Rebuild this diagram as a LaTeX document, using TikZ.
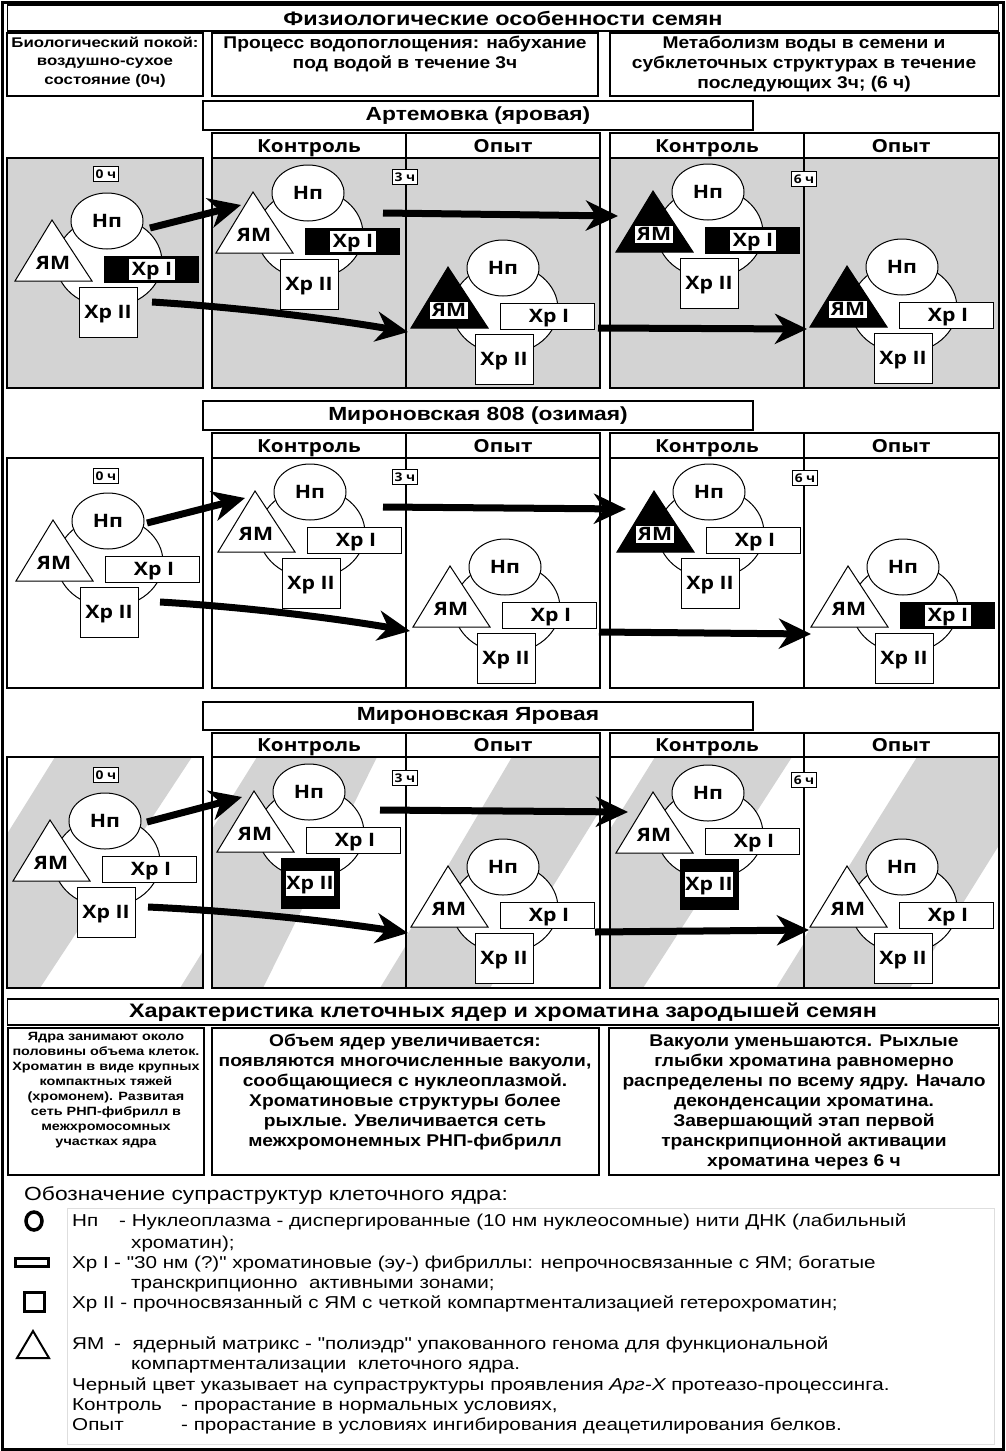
\documentclass[tikz,border=0pt]{standalone}
\usepackage{fontspec}
\setmainfont[FakeStretch=1.2]{Liberation Sans}
\newfontfamily\lsb[FakeStretch=1.13]{Liberation Sans}
\newfontfamily\legf[FakeStretch=1.2]{Liberation Sans}
\newfontfamily\osf[FakeStretch=1.15]{Open Sans}
\usetikzlibrary{arrows.meta,calc,shapes.geometric}
\definecolor{pgray}{RGB}{211,211,211}
\definecolor{lgray}{RGB}{222,222,222}
\tikzset{
  ln/.style={line width=1.4pt},
  nl/.style={line width=1pt},
  lab/.style={font=\osf\bfseries\fontsize{18.5}{20}\selectfont, inner sep=0pt, text height=13pt, text depth=0pt},
  hdr/.style={font=\osf\bfseries\fontsize{18}{20}\selectfont, inner sep=0pt, text height=13pt, text depth=0pt},
  ttl/.style={font=\bfseries\fontsize{19.5}{24}\selectfont},
  sub/.style={font=\bfseries\fontsize{19}{23}\selectfont},
  desc/.style={font=\lsb\bfseries\fontsize{17}{20}\selectfont, align=center, inner sep=0pt},
  tlab/.style={draw, line width=0.9pt, fill=white, font=\osf\bfseries\fontsize{12}{12}\selectfont, minimum width=25pt, minimum height=15pt, inner sep=0pt, text height=8.5pt, text depth=0pt},
  bigarrow/.style={line width=7pt, -{Stealth[length=32pt,width=30pt,inset=10pt]}},
  leg/.style={font=\legf\fontsize{17.2}{20}\selectfont, anchor=base west, inner sep=0pt},
}
% nucleus: prefix, cx, cy, YM black, XrI black, XrII black
\newcommand\nucl[6]{%
\begin{scope}[shift={(#2,#3)}]
 \node[ellipse, draw, nl, fill=white, minimum width=106pt, minimum height=90pt, inner sep=0pt] (#1big) at (2,41) {};
 \node[ellipse, draw, nl, fill=white, minimum width=72pt, minimum height=56pt, lab] (#1np) at (0,0) {Нп};
 \ifnum#4=1
  \filldraw[nl, fill=black] (-55,-1) -- (-92,60) -- (-15,60) -- cycle;
  \node[lab, fill=white, minimum width=38pt, minimum height=17pt] (#1ym) at (-54,42) {ЯМ};
 \else
  \filldraw[nl, fill=white] (-55,-1) -- (-92,60) -- (-15,60) -- cycle;
  \node[lab] (#1ym) at (-54,42) {ЯМ};
 \fi
 \ifnum#5=1
  \node[draw, nl, fill=black, minimum width=94pt, minimum height=26pt] (#1xa) at (44,48) {};
  \node[lab, fill=white, minimum width=46pt, minimum height=21pt] (#1xat) at (45,48) {Хр I};
 \else
  \node[draw, nl, fill=white, minimum width=94pt, minimum height=26pt, lab] (#1xa) at (44,48) {\hspace*{4pt}Хр I};
 \fi
 \ifnum#6=1
  \node[draw, nl, fill=black, minimum width=58pt, minimum height=50pt] (#1xb) at (1,91) {};
  \node[lab, fill=white, minimum width=48pt, minimum height=25pt] (#1xbt) at (1,91) {Хр II};
 \else
  \node[draw, nl, fill=white, minimum width=58pt, minimum height=50pt, lab] (#1xb) at (1,91) {Хр II};
 \fi
\end{scope}}
% panel frames: header top, body top, bottom
\newcommand\rowframes[3]{%
 \draw[ln] (7,#2) rectangle (203,#3);
 \draw[ln] (212,#1) rectangle (600,#3);
 \draw[ln] (212,#2) -- (600,#2);
 \draw[ln] (406,#1) -- (406,#3);
 \draw[ln] (610,#1) rectangle (999,#3);
 \draw[ln] (610,#2) -- (999,#2);
 \draw[ln] (804,#1) -- (804,#3);
}
\newcommand\rowheads[2]{%
 \node[hdr] (#1c1) at (309,#2) {Контроль};
 \node[hdr] (#1o1) at (503,#2) {Опыт};
 \node[hdr] (#1c2) at (707,#2) {Контроль};
 \node[hdr] (#1o2) at (901,#2) {Опыт};
}
\begin{document}
\begin{tikzpicture}[x=1pt,y=-1pt]
\useasboundingbox (0,0) rectangle (1005,1451);
\fill[white] (0,0) rectangle (1005,1451);

% ---------- top header ----------
\node[ttl, draw, ln, fill=white, minimum width=991pt, minimum height=26pt, inner sep=0pt] (title) at (503,18) {Физиологические особенности семян};
\draw[ln] (7,33) rectangle (203,96);
\draw[ln] (212,33) rectangle (598,96);
\draw[ln] (610,33) rectangle (999,96);
\node[font=\bfseries\fontsize{14}{18.5}\selectfont, align=center, inner sep=0pt] (d0) at (105,62) {Биологический покой:\\воздушно-сухое\\состояние (0ч)};
\node[desc] (d3) at (405,54) {Процесс водопоглощения: набухание\\под водой в течение 3ч};
\node[desc] (d6) at (804,64) {Метаболизм воды в семени и\\субклеточных структурах в течение\\последующих 3ч; (6 ч)};

% ---------- backgrounds ----------
\fill[pgray] (7,158) rectangle (203,388);
\fill[pgray] (212,158) rectangle (600,388);
\fill[pgray] (610,158) rectangle (999,388);

% stripes row 3
\begin{scope}
 \clip (7,757) rectangle (203,988);
 \fill[pgray] (55,757) -- (192,757) -- (40,988) -- (-89,988) -- cycle;
 \fill[pgray] (324,757) -- (460,757) -- (316,988) -- (180,988) -- cycle;
\end{scope}
\begin{scope}
 \clip (212,757) rectangle (406,988);
 \fill[pgray] (257,757) -- (377,757) -- (263,988) -- (113,988) -- cycle;
 \fill[pgray] (521,757) -- (658,757) -- (520,988) -- (380,988) -- cycle;
\end{scope}
\begin{scope}
 \clip (406,757) rectangle (600,988);
 \fill[pgray] (512,757) -- (633,757) -- (490,988) -- (376,988) -- cycle;
\end{scope}
\begin{scope}
 \clip (610,757) rectangle (804,988);
 \fill[pgray] (655,757) -- (792,757) -- (643,988) -- (511,988) -- cycle;
 \fill[pgray] (920,757) -- (1057,757) -- (913,988) -- (776,988) -- cycle;
\end{scope}
\begin{scope}
 \clip (804,757) rectangle (999,988);
 \fill[pgray] (917,757) -- (1054,757) -- (910,988) -- (773,988) -- cycle;
\end{scope}

% ---------- row titles and frames ----------
\node[sub, draw, ln, fill=white, minimum width=550pt, minimum height=29pt, inner sep=0pt] (s1) at (478,115.5) {Артемовка (яровая)};
\node[sub, draw, ln, fill=white, minimum width=550pt, minimum height=29pt, inner sep=0pt] (s2) at (478,415.5) {Мироновская 808 (озимая)};
\node[sub, draw, ln, fill=white, minimum width=550pt, minimum height=28pt, inner sep=0pt] (s3) at (478,716) {Мироновская Яровая};

\rowframes{133}{158}{388}
\rowframes{433}{458}{688}
\rowframes{733}{757}{988}
\rowheads{h1}{146}
\rowheads{h2}{446}
\rowheads{h3}{745}

% ---------- nuclei ----------
\nucl{a0}{107}{221}{0}{1}{0}
\nucl{a1}{308}{193}{0}{1}{0}
\nucl{a2}{503}{268}{1}{0}{0}
\nucl{a3}{708}{192}{1}{1}{0}
\nucl{a4}{902}{267}{1}{0}{0}
\nucl{b0}{108}{521}{0}{0}{0}
\nucl{b1}{310}{492}{0}{0}{0}
\nucl{b2}{505}{567}{0}{0}{0}
\nucl{b3}{709}{492}{1}{0}{0}
\nucl{b4}{903}{567}{0}{1}{0}
\nucl{c0}{105}{821}{0}{0}{0}
\nucl{c1}{309}{792}{0}{0}{1}
\nucl{c2}{503}{867}{0}{0}{0}
\nucl{c3}{708}{793}{0}{0}{1}
\nucl{c4}{902}{867}{0}{0}{0}

% ---------- time labels ----------
\node[tlab] (t10) at (106,174) {0 ч};
\node[tlab] (t13) at (405,177) {3 ч};
\node[tlab] (t16) at (804,179) {6 ч};
\node[tlab] (t20) at (106,476) {0 ч};
\node[tlab] (t23) at (405,477) {3 ч};
\node[tlab] (t26) at (805,478) {6 ч};
\node[tlab] (t30) at (106,775) {0 ч};
\node[tlab] (t33) at (405,778) {3 ч};
\node[tlab] (t36) at (804,780) {6 ч};

% ---------- arrows ----------
\coordinate (a1s) at (150,228); \coordinate (a1e) at (241,205);
\coordinate (a2s) at (152,302); \coordinate (a2e) at (408,332);
\coordinate (a3s) at (383,213); \coordinate (a3e) at (618,216);
\coordinate (a4s) at (598,328); \coordinate (a4e) at (807,329);
\coordinate (b1s) at (147,523); \coordinate (b1e) at (245,498);
\coordinate (b2s) at (160,602); \coordinate (b2e) at (410,631);
\coordinate (b3s) at (383,507); \coordinate (b3e) at (626,509);
\coordinate (b4s) at (599,632); \coordinate (b4e) at (811,634);
\coordinate (c1s) at (147,822); \coordinate (c1e) at (242,797);
\coordinate (c2s) at (148,907); \coordinate (c2e) at (408,933);
\coordinate (c3s) at (380,810); \coordinate (c3e) at (628,812);
\coordinate (c4s) at (595,932); \coordinate (c4e) at (809,930);
\foreach \r in {a,b,c}{
 \draw[bigarrow] (\r1s) -- (\r1e);
 \draw[bigarrow] (\r2s) .. controls ($(\r2s)!0.35!(\r2e)+(0,-5)$) and ($(\r2s)!0.7!(\r2e)+(0,-4)$) .. (\r2e);
 \draw[bigarrow] (\r3s) -- (\r3e);
 \draw[bigarrow] (\r4s) -- (\r4e);
}

% ---------- bottom characteristics ----------
\node[ttl, draw, ln, fill=white, minimum width=991pt, minimum height=26pt, inner sep=0pt] (title2) at (503,1012) {Характеристика клеточных ядер и хроматина зародышей семян};
\draw[ln] (8,1028) rectangle (204,1175);
\draw[ln] (212,1028) rectangle (599,1175);
\draw[ln] (609,1028) rectangle (999,1175);
\node[font=\bfseries\fontsize{12}{15}\selectfont, align=center, inner sep=0pt] (e0) at (106,1090) {Ядра занимают около\\половины объема клеток.\\Хроматин в виде крупных\\компактных тяжей\\(хромонем). Развитая\\сеть РНП-фибрилл в\\межхромосомных\\участках ядра};
\node[desc] (e3) at (405,1092) {Объем ядер увеличивается:\\появляются многочисленные вакуоли,\\сообщающиеся с нуклеоплазмой.\\Хроматиновые структуры более\\рыхлые. Увеличивается сеть\\межхромонемных РНП-фибрилл};
\node[desc] (e6) at (804,1102) {Вакуоли уменьшаются. Рыхлые\\глыбки хроматина равномерно\\распределены по всему ядру. Начало\\деконденсации хроматина.\\Завершающий этап первой\\транскрипционной активации\\хроматина через 6 ч};

% ---------- legend ----------
\node[font=\fontsize{19}{22}\selectfont, anchor=west, inner sep=0pt] (lhead) at (24,1195) {Обозначение супраструктур клеточного ядра:};
\draw[lgray, line width=0.8pt] (67,1208) rectangle (994,1444);
\node[ellipse, draw, line width=3.5pt, minimum width=16pt, minimum height=18pt, inner sep=0pt] (sym1) at (34,1221) {};
\node[draw, line width=3pt, minimum width=33pt, minimum height=8pt, inner sep=0pt] (sym2) at (32,1262) {};
\node[draw, line width=3pt, minimum width=20pt, minimum height=19pt, inner sep=0pt] (sym3) at (34,1302) {};
\draw[line width=2pt] (33,1331) -- (49,1358) -- (17,1358) -- cycle;
\node[leg] (l1a) at (72,1226) {Нп};
\node[leg] (l1b) at (119,1226) {- Нуклеоплазма - диспергированные (10 нм нуклеосомные) нити ДНК (лабильный};
\node[leg] (l1c) at (131,1248) {хроматин);};
\node[leg] (l2a) at (72,1268) {Хр I};
\node[leg] (l2b) at (114,1268) {- "30 нм (?)" хроматиновые (эу-) фибриллы: непрочносвязанные с ЯМ; богатые};
\node[leg] (l2c) at (131,1288) {транскрипционно\ \ активными зонами;};
\node[leg] (l3a) at (72,1308) {Хр II - прочносвязанный с ЯМ с четкой компартментализацией гетерохроматин;};
\node[leg] (l4a) at (72,1349) {ЯМ};
\node[leg] (l4b) at (114,1349) {-\ \ ядерный матрикс - "полиэдр" упакованного генома для функциональной};
\node[leg] (l4c) at (131,1369) {компартментализации\ \ клеточного ядра.};
\node[leg] (l5) at (72,1390) {Черный цвет указывает на супраструктуры проявления {\itshape Арг-Х} протеазо-процессинга.};
\node[leg] (l6a) at (72,1410) {Контроль};
\node[leg] (l6b) at (181,1410) {- прорастание в нормальных условиях,};
\node[leg] (l7a) at (72,1430) {Опыт};
\node[leg] (l7b) at (181,1430) {- прорастание в условиях ингибирования деацетилирования белков.};

% outer frame
\draw[line width=3pt] (2,2) rectangle (1003,1449);
\end{tikzpicture}
\end{document}
